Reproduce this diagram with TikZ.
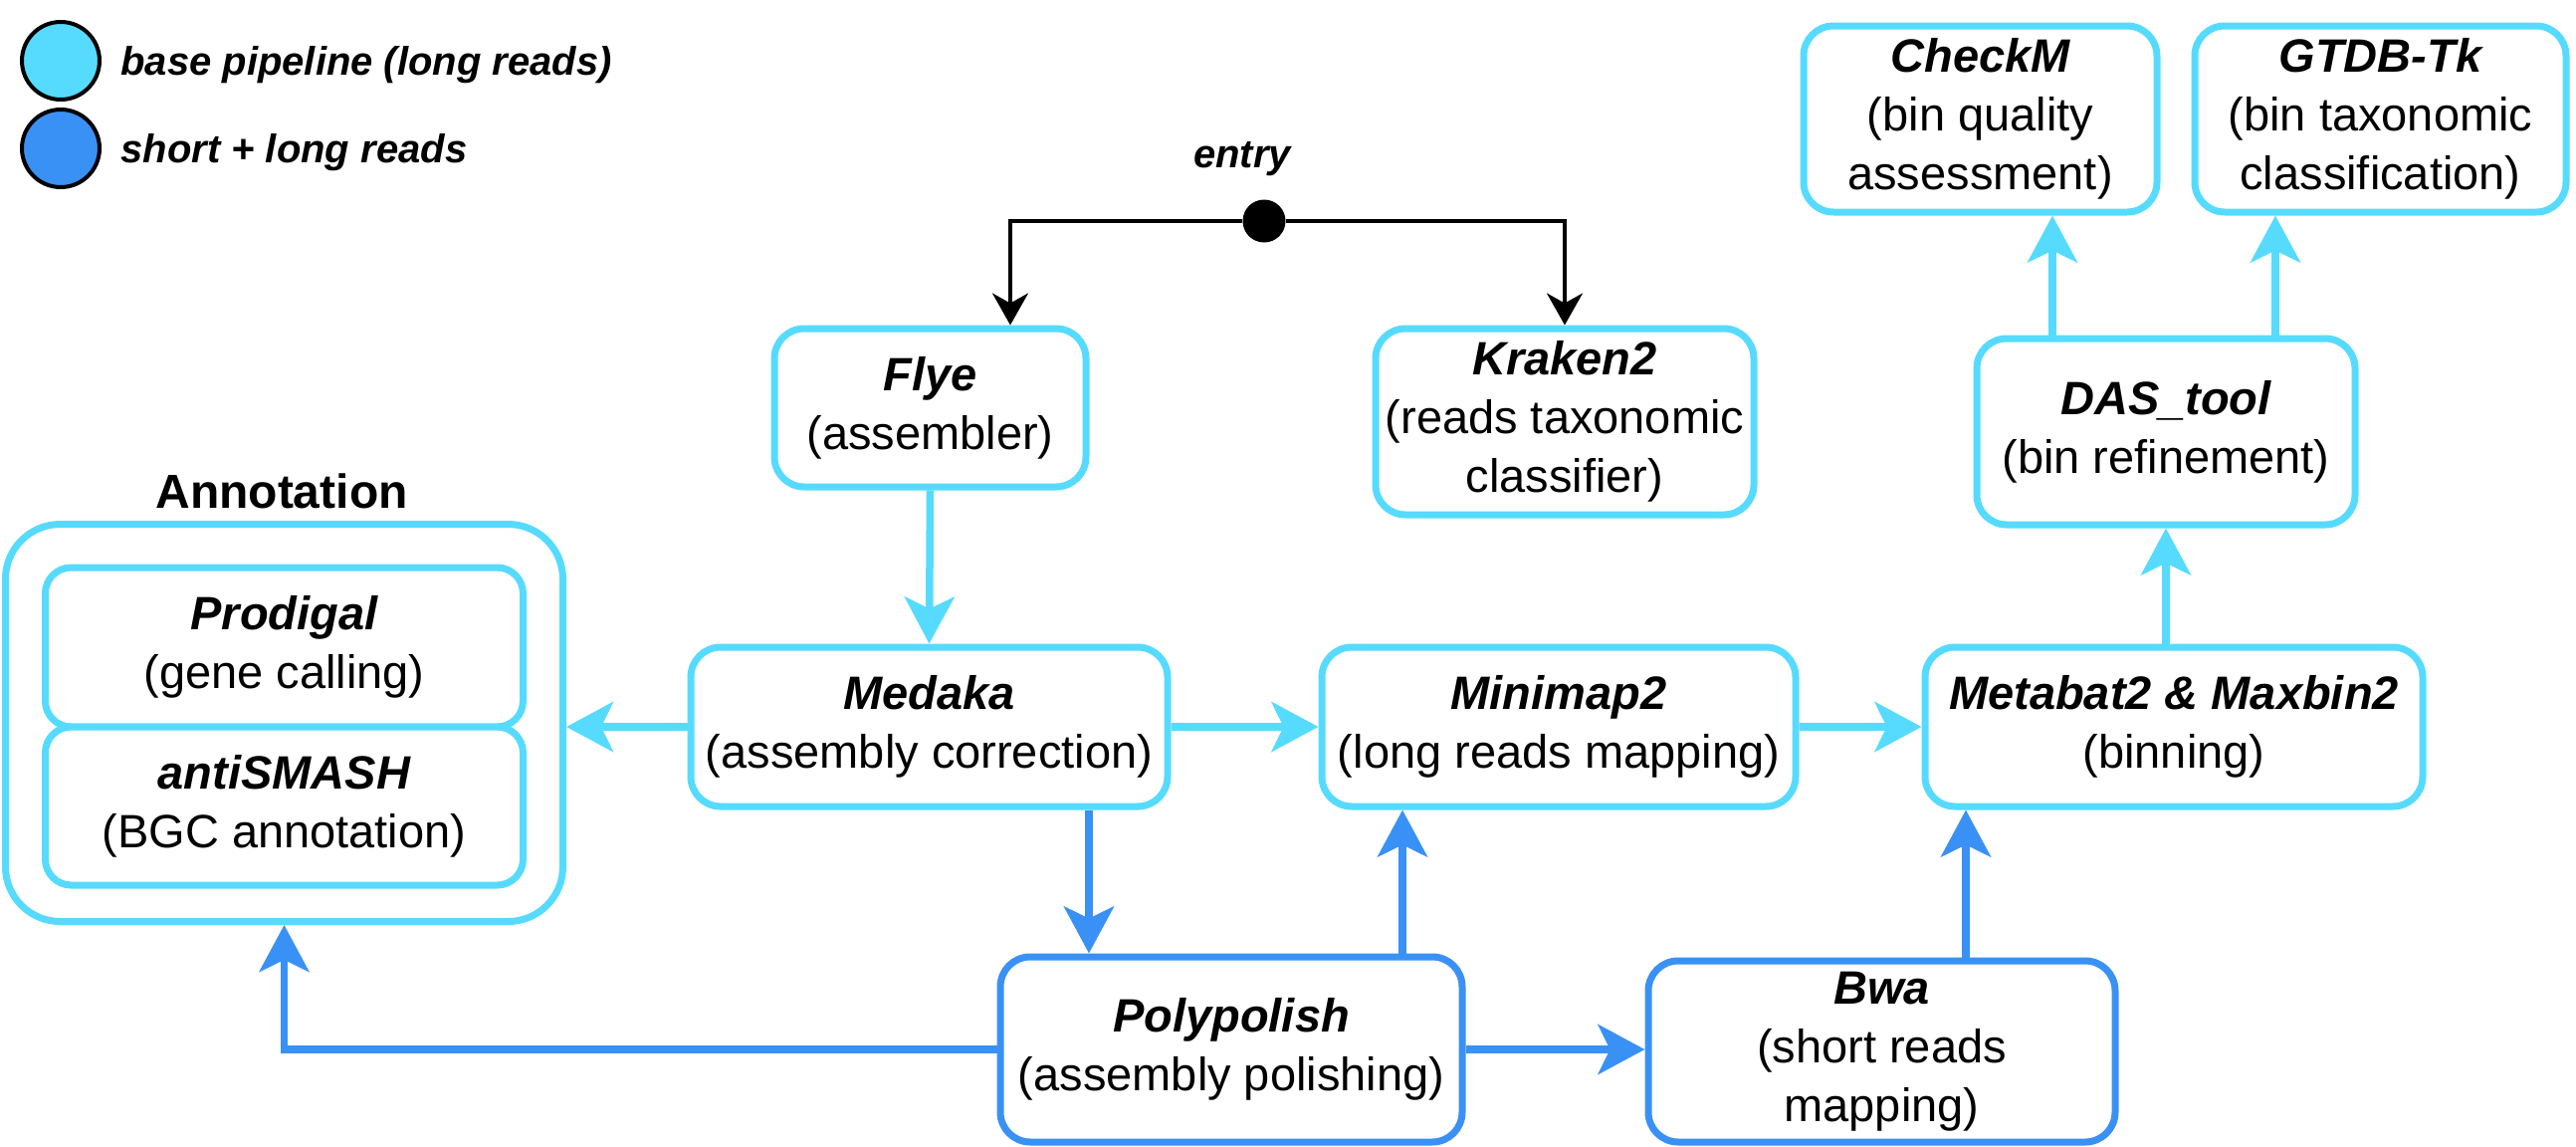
\documentclass[tikz,border=0pt]{standalone}
\usepackage{fontspec}
\setmainfont{Liberation Sans}
\usetikzlibrary{arrows.meta,calc}
\definecolor{cyanc}{RGB}{86,219,255}
\definecolor{bluec}{RGB}{58,145,245}
\newcommand{\tn}[1]{{\bfseries\itshape #1}}
\begin{document}
\begin{tikzpicture}[x=0.5pt,y=-0.5pt,
  box/.style={draw=cyanc, line width=3.5pt, rounded corners=15pt, fill=white, align=center, inner sep=0pt, font=\fontsize{23.5}{29.5}\selectfont},
  bbox/.style={box, draw=bluec},
  carrow/.style={draw=cyanc, line width=3.75pt, -{Stealth[length=23.5pt,width=25pt,inset=6pt]}},
  barrow/.style={carrow, draw=bluec},
  karrow/.style={draw=black, line width=1.65pt, -{Stealth[length=16pt,width=18pt,inset=5pt]}},
  legdot/.style={circle, draw=black, line width=2pt, minimum size=39pt, inner sep=0pt},
  legtxt/.style={anchor=base west, inner sep=0pt, font=\fontsize{20}{24}\selectfont\bfseries\itshape}
]
\useasboundingbox (0,0) rectangle (2588,1152);

% legend
\node[legdot, fill=cyanc] (leg1) at (61,61) {};
\node[legdot, fill=bluec] (leg2) at (61,149) {};
\node[legtxt] (leg1t) at (121,75) {base pipeline (long reads)};
\node[legtxt] (leg2t) at (121,163) {short + long reads};

% entry
\node[anchor=base, inner sep=0pt, font=\fontsize{20}{24}\selectfont\bfseries\itshape] (entrylbl) at (1248,168) {entry};
\node[circle, fill=black, minimum size=21.5pt, inner sep=0pt] (dot) at (1270,222) {};

% nodes
\node[box, minimum width=156.5pt, minimum height=79.5pt] (flye) at (934.5,409.5) {\tn{Flye}\\(assembler)};
\node[box, minimum width=190pt, minimum height=93.5pt] (kraken) at (1572,423.5) {\tn{Kraken2}\\(reads taxonomic\\classifier)};
\node[box, minimum width=239.5pt, minimum height=80pt] (medaka) at (933.5,730) {\tn{Medaka}\\(assembly correction)};
\node[box, minimum width=238pt, minimum height=80pt] (minimap) at (1566,730) {\tn{Minimap2}\\(long reads mapping)};
\node[box, minimum width=250pt, minimum height=80pt] (metabat) at (2184,730) {\tn{Metabat2 \& Maxbin2}\\(binning)};
\node[box, minimum width=190pt, minimum height=93.5pt] (das) at (2176,433.5) {\tn{DAS\_tool}\\(bin refinement)};
\node[box, minimum width=177.5pt, minimum height=93.5pt] (checkm) at (1989.5,119.5) {\tn{CheckM}\\(bin quality\\assessment)};
\node[box, minimum width=186.5pt, minimum height=93.5pt] (gtdb) at (2391.5,119.5) {\tn{GTDB-Tk}\\(bin taxonomic\\classification)};
\node[bbox, minimum width=232pt, minimum height=93pt] (poly) at (1237,1054) {\tn{Polypolish}\\(assembly polishing)};
\node[bbox, minimum width=234.5pt, minimum height=91pt] (bwa) at (1890.5,1056) {\tn{Bwa}\\(short reads\\mapping)};

% annotation group
\node[box, rounded corners=27.5pt, minimum width=280pt, minimum height=199.5pt] (annot) at (285.5,726) {};
\node[box, rounded corners=13pt, minimum width=240pt, minimum height=80pt] (prodigal) at (285.5,650) {\tn{Prodigal}\\(gene calling)};
\node[box, rounded corners=13pt, minimum width=240pt, minimum height=79.5pt] (antismash) at (285.5,809.5) {\tn{antiSMASH}\\(BGC annotation)};
\node[anchor=base, inner sep=0pt, font=\fontsize{24}{28}\selectfont\bfseries] (anntitle) at (283,510) {Annotation};

% helper x positions
\coordinate (xf) at (1015,0);
\coordinate (xc) at (2062,0);
\coordinate (xg) at (2286,0);
\coordinate (xm) at (1094,0);
\coordinate (xp) at (1409,0);
\coordinate (xb) at (1975,0);

% entry connectors
\draw[karrow] (dot.west) -| (flye.north -| xf);
\draw[karrow] (dot.east) -| (kraken.north);

% cyan connectors
\draw[carrow] (flye.south) -- (medaka.north);
\draw[carrow] (medaka.west) -- (medaka.west -| annot.east);
\draw[carrow] (medaka.east) -- (minimap.west);
\draw[carrow] (minimap.east) -- (metabat.west);
\draw[carrow] (das.south |- metabat.north) -- (das.south);
\draw[carrow] (das.north -| xc) -- (checkm.south -| xc);
\draw[carrow] (das.north -| xg) -- (gtdb.south -| xg);

% blue connectors
\draw[barrow] (medaka.south -| xm) -- (poly.north -| xm);
\draw[barrow] (poly.north -| xp) -- (minimap.south -| xp);
\draw[barrow] (poly.east) -- (poly.east -| bwa.west);
\draw[barrow] (poly.west) -| (annot.south);
\draw[barrow] (bwa.north -| xb) -- (metabat.south -| xb);
\end{tikzpicture}
\end{document}
